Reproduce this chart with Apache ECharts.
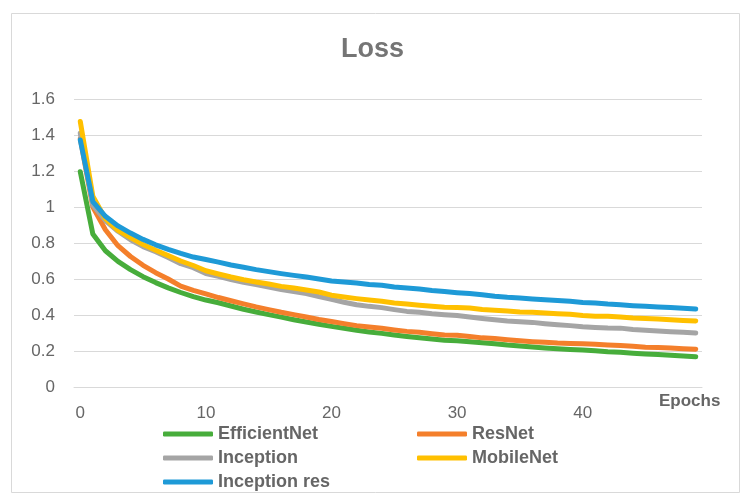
<!DOCTYPE html>
<html>
<head>
<meta charset="utf-8">
<script src="https://cdn.jsdelivr.net/npm/echarts@6/dist/echarts.min.js"></script>
<style>html,body{margin:0;padding:0;background:#fff;}#c{width:745px;height:504px;}</style>
</head>
<body>
<div id="c"></div>
<script>
const epochs = Array.from({length: 50}, (_, i) => String(i));
const seriesNames = ['EfficientNet', 'ResNet', 'Inception', 'MobileNet', 'Inception res'];
const efficientNet = [1.196,0.85,0.757,0.698,0.652,0.613,0.58,0.551,0.525,0.502,0.483,0.468,0.45,0.432,0.417,0.402,0.388,0.374,0.361,0.349,0.337,0.326,0.315,0.306,0.298,0.289,0.281,0.274,0.267,0.26,0.257,0.252,0.246,0.24,0.233,0.228,0.222,0.217,0.212,0.208,0.205,0.201,0.196,0.193,0.188,0.184,0.18,0.176,0.172,0.168];
const resNet = [1.38,1.0,0.874,0.785,0.725,0.676,0.635,0.6,0.56,0.537,0.517,0.497,0.479,0.462,0.445,0.43,0.415,0.402,0.389,0.375,0.364,0.352,0.341,0.333,0.326,0.317,0.309,0.304,0.296,0.289,0.288,0.281,0.273,0.269,0.263,0.257,0.252,0.248,0.244,0.242,0.24,0.237,0.233,0.23,0.226,0.221,0.219,0.217,0.213,0.21];
const inception = [1.41,1.01,0.925,0.865,0.818,0.78,0.752,0.72,0.685,0.663,0.63,0.615,0.597,0.582,0.569,0.556,0.542,0.531,0.519,0.502,0.487,0.471,0.457,0.448,0.441,0.43,0.42,0.415,0.407,0.402,0.397,0.389,0.381,0.374,0.367,0.363,0.359,0.352,0.346,0.341,0.335,0.331,0.328,0.327,0.319,0.315,0.311,0.307,0.304,0.3];
const mobileNet = [1.475,1.06,0.935,0.87,0.83,0.792,0.76,0.73,0.7,0.675,0.646,0.628,0.611,0.596,0.583,0.572,0.559,0.55,0.539,0.528,0.51,0.5,0.491,0.483,0.476,0.467,0.461,0.454,0.448,0.443,0.441,0.439,0.43,0.426,0.422,0.417,0.415,0.411,0.407,0.404,0.397,0.393,0.393,0.389,0.383,0.381,0.378,0.374,0.37,0.367];
const inceptionRes = [1.372,1.03,0.948,0.895,0.855,0.82,0.79,0.765,0.742,0.722,0.708,0.694,0.678,0.665,0.652,0.641,0.63,0.62,0.611,0.6,0.589,0.583,0.578,0.57,0.565,0.556,0.55,0.544,0.536,0.53,0.524,0.519,0.513,0.504,0.498,0.494,0.489,0.485,0.481,0.476,0.47,0.467,0.461,0.457,0.452,0.448,0.444,0.441,0.437,0.433];
const colors = ['#47AD3B', '#F47F2B', '#A5A5A5', '#FFC000', '#1E9AD7'];
const allData = [efficientNet, resNet, inception, mobileNet, inceptionRes];

const chart = echarts.init(document.getElementById('c'), null, {renderer: 'canvas'});
const font = 'Liberation Sans, Arial, sans-serif';
const legendText = {color: '#666666', fontSize: 18, fontWeight: 'bold', fontFamily: font, lineHeight: 24};
chart.setOption({
  animation: false,
  backgroundColor: '#ffffff',
  color: colors,
  title: {
    text: 'Loss', left: 'center', top: 31,
    textStyle: {color: '#757575', fontSize: 27, fontWeight: 'bold', fontFamily: font}
  },
  graphic: [
    {type: 'rect', left: 9, top: 11, shape: {width: 728, height: 479}, style: {fill: 'none', stroke: '#d9d9d9', lineWidth: 1}, silent: true},
    {type: 'text', left: 659, top: 393, style: {text: 'Epochs', fill: '#666666', font: 'bold 17px ' + font}}
  ],
  legend: [
    {
      orient: 'vertical', left: 158, top: 417, itemGap: 0, itemWidth: 50, itemHeight: 5, icon: 'roundRect',
      data: [seriesNames[0], seriesNames[2], seriesNames[4]], textStyle: legendText
    },
    {
      orient: 'vertical', left: 412, top: 417, itemGap: 0, itemWidth: 50, itemHeight: 5, icon: 'roundRect',
      data: [seriesNames[1], seriesNames[3]], textStyle: legendText
    }
  ],
  grid: {left: 74, right: 43, top: 99, bottom: 117, containLabel: false},
  xAxis: {
    type: 'category', data: epochs, boundaryGap: true,
    axisLine: {show: true, lineStyle: {color: '#d9d9d9', width: 1}},
    axisTick: {show: false},
    axisLabel: {interval: 9, color: '#666666', fontSize: 17, fontFamily: font, margin: 18},
    splitLine: {show: false}
  },
  yAxis: {
    type: 'value', min: 0, max: 1.6, interval: 0.2,
    axisLine: {show: false}, axisTick: {show: false},
    axisLabel: {color: '#666666', fontSize: 17, fontFamily: font, margin: 19},
    splitLine: {lineStyle: {color: '#d9d9d9', width: 1}}
  },
  series: seriesNames.map((name, k) => ({
    name: name, type: 'line', data: allData[k], showSymbol: false, symbol: 'none',
    lineStyle: {width: 5, color: colors[k], cap: 'round', join: 'round'},
    itemStyle: {color: colors[k]}, z: 2 + k
  }))
});
</script>
</body>
</html>
